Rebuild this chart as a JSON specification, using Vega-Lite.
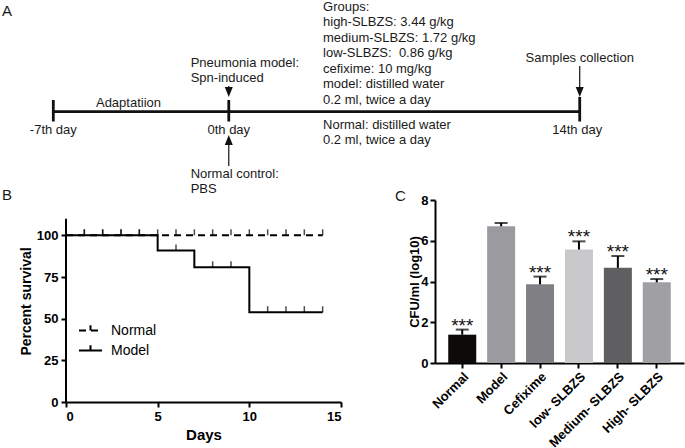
{
  "$schema": "https://vega.github.io/schema/vega-lite/v6.json",
  "padding": {"left": 2, "top": 0, "right": 0, "bottom": 0},
  "background": "white",
  "bounds": "flush",
  "spacing": 0,
  "config": {
    "font": "Liberation Sans",
    "view": {"stroke": null},
    "axis": {"grid": false, "domainColor": "black", "tickColor": "black", "labelColor": "black", "titleColor": "black", "domainWidth": 2, "tickWidth": 2, "tickSize": 5, "labelFont": "Liberation Sans", "labelFontWeight": "bold", "labelFontSize": 13, "titleFont": "Liberation Sans", "titleFontWeight": "bold"}
  },
  "datasets": {
    "timeline": [
      {"kind": "thick", "d": -7, "d2": 14, "lv": 111.7, "lv2": 111.7},
      {"kind": "thick", "d": -7, "d2": -7, "lv": 100, "lv2": 121.5},
      {"kind": "thick", "d": 0, "d2": 0, "lv": 100, "lv2": 121.5},
      {"kind": "thick", "d": 14, "d2": 14, "lv": 97, "lv2": 121.5},
      {"kind": "thin", "d": 0, "d2": 0, "lv": 86, "lv2": 92},
      {"kind": "thin", "d": 14, "d2": 14, "lv": 66, "lv2": 92},
      {"kind": "thin", "d": 0, "d2": 0, "lv": 140, "lv2": 166},
      {"kind": "head", "dir": "down", "d": 0, "lv": 92},
      {"kind": "head", "dir": "down", "d": 14, "lv": 92},
      {"kind": "head", "dir": "up", "d": 0, "lv": 140},
      {"kind": "tl", "t": "Pneumonia model:", "d": -1.52, "lv": 62.5},
      {"kind": "tl", "t": "Spn-induced", "d": -1.52, "lv": 78},
      {"kind": "tl", "t": "Groups:", "d": 3.76, "lv": 6.5},
      {"kind": "tl", "t": "high-SLBZS: 3.44 g/kg", "d": 3.76, "lv": 22},
      {"kind": "tl", "t": "medium-SLBZS: 1.72 g/kg", "d": 3.76, "lv": 37.5},
      {"kind": "tl", "t": "low-SLBZS: \u00a00.86 g/kg", "d": 3.76, "lv": 53},
      {"kind": "tl", "t": "cefixime: 10 mg/kg", "d": 3.76, "lv": 68.5},
      {"kind": "tl", "t": "model: distilled water", "d": 3.76, "lv": 84},
      {"kind": "tl", "t": "0.2 ml, twice a day", "d": 3.76, "lv": 99.5},
      {"kind": "tl", "t": "Normal: distilled water", "d": 3.76, "lv": 124.5},
      {"kind": "tl", "t": "0.2 ml, twice a day", "d": 3.76, "lv": 140},
      {"kind": "tl", "t": "Normal control:", "d": -1.52, "lv": 174},
      {"kind": "tl", "t": "PBS", "d": -1.52, "lv": 189},
      {"kind": "tc", "t": "Adaptatiion", "d": -4, "lv": 103},
      {"kind": "tc", "t": "-7th day", "d": -7, "lv": 130},
      {"kind": "tc", "t": "0th day", "d": 0, "lv": 130},
      {"kind": "tc", "t": "14th day", "d": 13.9, "lv": 130},
      {"kind": "tc", "t": "Samples collection", "d": 14, "lv": 58},
      {"kind": "lab", "t": "A", "d": -9.046, "lv": 11},
      {"kind": "lab", "t": "B", "d": -9.046, "lv": 195},
      {"kind": "lab", "t": "C", "d": 6.63, "lv": 196}
    ],
    "surv": [
      {"group": "Normal", "day": 0, "pct": 100},
      {"group": "Normal", "day": 14, "pct": 100},
      {"group": "Model", "day": 0, "pct": 100},
      {"group": "Model", "day": 5, "pct": 90.9},
      {"group": "Model", "day": 7, "pct": 80.8},
      {"group": "Model", "day": 10, "pct": 53.9},
      {"group": "Model", "day": 14, "pct": 53.9}
    ],
    "censor": [
      {"group": "Normal", "day": 1, "pct": 100}, {"group": "Normal", "day": 2, "pct": 100},
      {"group": "Normal", "day": 3, "pct": 100}, {"group": "Normal", "day": 4, "pct": 100},
      {"group": "Normal", "day": 5, "pct": 100}, {"group": "Normal", "day": 6, "pct": 100},
      {"group": "Normal", "day": 7, "pct": 100}, {"group": "Normal", "day": 8, "pct": 100},
      {"group": "Normal", "day": 9, "pct": 100}, {"group": "Normal", "day": 10, "pct": 100},
      {"group": "Normal", "day": 11, "pct": 100}, {"group": "Normal", "day": 12, "pct": 100},
      {"group": "Normal", "day": 13, "pct": 100}, {"group": "Normal", "day": 14, "pct": 100},
      {"group": "Model", "day": 1, "pct": 100}, {"group": "Model", "day": 2, "pct": 100},
      {"group": "Model", "day": 3, "pct": 100}, {"group": "Model", "day": 4, "pct": 100},
      {"group": "Model", "day": 6, "pct": 90.9},
      {"group": "Model", "day": 8, "pct": 80.8}, {"group": "Model", "day": 9, "pct": 80.8},
      {"group": "Model", "day": 11, "pct": 53.9}, {"group": "Model", "day": 12, "pct": 53.9},
      {"group": "Model", "day": 13, "pct": 53.9}, {"group": "Model", "day": 14, "pct": 53.9}
    ],
    "cfu": [
      {"group": "Normal", "mean": 1.39, "upper": 1.64, "sig": "***"},
      {"group": "Model", "mean": 6.71, "upper": 6.87, "sig": ""},
      {"group": "Cefixime", "mean": 3.86, "upper": 4.24, "sig": "***"},
      {"group": "low- SLBZS", "mean": 5.57, "upper": 5.97, "sig": "***"},
      {"group": "Medium- SLBZS", "mean": 4.67, "upper": 5.25, "sig": "***"},
      {"group": "High- SLBZS", "mean": 3.96, "upper": 4.12, "sig": "***"}
    ]
  },
  "vconcat": [
    {
      "width": 619,
      "height": 200,
      "data": {"name": "timeline"},
      "encoding": {
        "x": {"field": "d", "type": "quantitative", "scale": {"domain": [-6.4934, 18.2], "nice": false, "zero": false}, "axis": null},
        "y": {"field": "lv", "type": "quantitative", "scale": {"domain": [0, 200], "reverse": true, "nice": false, "zero": false}, "axis": null}
      },
      "layer": [
        {"transform": [{"filter": "datum.kind === 'thick'"}], "mark": {"type": "rule", "strokeWidth": 2.8, "color": "#111"}, "encoding": {"x2": {"field": "d2"}, "y2": {"field": "lv2"}}},
        {"transform": [{"filter": "datum.kind === 'thin'"}], "mark": {"type": "rule", "strokeWidth": 1.2, "color": "#111"}, "encoding": {"x2": {"field": "d2"}, "y2": {"field": "lv2"}}},
        {"transform": [{"filter": "datum.kind === 'head'"}], "mark": {"type": "point", "filled": true, "color": "#111", "size": 100, "opacity": 1}, "encoding": {"shape": {"field": "dir", "type": "nominal", "scale": {"domain": ["down", "up"], "range": ["M0,1L-0.8,-1L0.8,-1Z", "M0,-1L-0.8,1L0.8,1Z"]}, "legend": null}}},
        {"transform": [{"filter": "datum.kind === 'tl'"}], "mark": {"type": "text", "align": "left", "baseline": "middle", "fontSize": 13, "color": "#1a1a1a"}, "encoding": {"text": {"field": "t"}}},
        {"transform": [{"filter": "datum.kind === 'tc'"}], "mark": {"type": "text", "align": "center", "baseline": "middle", "fontSize": 13, "color": "#1a1a1a"}, "encoding": {"text": {"field": "t"}}},
        {"transform": [{"filter": "datum.kind === 'lab'"}], "mark": {"type": "text", "align": "left", "baseline": "middle", "fontSize": 15, "color": "#1a1a1a"}, "encoding": {"text": {"field": "t"}}}
      ]
    },
    {
      "spacing": 66,
      "hconcat": [
        {
          "width": 275,
          "height": 202,
          "layer": [
            {
              "data": {"values": [{}]},
              "mark": {"type": "rule", "strokeWidth": 2, "color": "black"},
              "encoding": {
                "x": {"datum": 0, "type": "quantitative", "scale": {"domain": [0, 15], "nice": false}, "axis": {"values": [0, 5, 10, 15], "title": "Days", "titleFontSize": 15, "titlePadding": 4, "labelPadding": 3}},
                "y": {"datum": 0, "type": "quantitative", "scale": {"domain": [0, 121.2], "nice": false}, "axis": {"values": [0, 25, 50, 75, 100], "domain": false, "title": "Percent survival", "titleFontSize": 14, "titlePadding": 3, "labelPadding": 3}},
                "y2": {"datum": 110}
              }
            },
            {
              "data": {"name": "surv"},
              "mark": {"type": "line", "interpolate": "step-after", "strokeWidth": 2, "color": "black"},
              "encoding": {
                "x": {"field": "day", "type": "quantitative", "title": "Days"},
                "y": {"field": "pct", "type": "quantitative", "title": "Percent survival"},
                "strokeDash": {"field": "group", "type": "nominal", "scale": {"domain": ["Normal", "Model"], "range": [[7, 5], [1, 0]]},
                  "legend": {"orient": "none", "legendX": 12, "legendY": 318, "title": null, "labelFontSize": 14, "labelFont": "Liberation Sans", "labelFontWeight": "normal", "labelColor": "black", "symbolType": "M-1,0H1M0,0V-0.45", "symbolSize": 529, "symbolStrokeWidth": 2, "symbolStrokeColor": "black", "symbolFillColor": "transparent", "labelOffset": 8, "rowPadding": 0, "padding": 0}}
              }
            },
            {
              "data": {"name": "censor"},
              "mark": {"type": "tick", "orient": "vertical", "size": 6, "thickness": 1.5, "yOffset": -3, "color": "black"},
              "encoding": {
                "x": {"field": "day", "type": "quantitative", "title": "Days"},
                "y": {"field": "pct", "type": "quantitative", "title": "Percent survival"}
              }
            }
          ]
        },
        {
          "width": 249,
          "height": 163,
          "data": {"name": "cfu"},
          "encoding": {
            "x": {"field": "group", "type": "nominal", "sort": null, "scale": {"paddingInner": 0.28, "paddingOuter": 0.34}, "axis": {"labelAngle": -45, "title": null, "labelPadding": 2}}
          },
          "layer": [
            {
              "mark": {"type": "bar"},
              "encoding": {
                "y": {"field": "mean", "type": "quantitative", "scale": {"domain": [0, 8], "nice": false}, "axis": {"values": [0, 2, 4, 6, 8], "title": "CFU/ml (log10)", "titleFontSize": 13, "titlePadding": -1, "labelPadding": 2}},
                "color": {"field": "group", "type": "nominal", "scale": {"domain": ["Normal", "Model", "Cefixime", "low- SLBZS", "Medium- SLBZS", "High- SLBZS"], "range": ["#0e0a0a", "#9b9b9f", "#808084", "#c9c9cb", "#5f5f62", "#a0a0a4"]}, "legend": null}
              }
            },
            {
              "mark": {"type": "rule", "strokeWidth": 2, "color": "black"},
              "encoding": {"y": {"field": "mean", "type": "quantitative", "title": "CFU/ml (log10)"}, "y2": {"field": "upper"}}
            },
            {
              "mark": {"type": "tick", "orient": "horizontal", "size": 13, "thickness": 2, "color": "black"},
              "encoding": {"y": {"field": "upper", "type": "quantitative", "title": "CFU/ml (log10)"}}
            },
            {
              "mark": {"type": "text", "fontSize": 19, "baseline": "alphabetic", "dy": 2, "color": "#111"},
              "encoding": {"y": {"field": "upper", "type": "quantitative", "title": "CFU/ml (log10)"}, "text": {"field": "sig"}}
            }
          ]
        }
      ]
    }
  ]
}
